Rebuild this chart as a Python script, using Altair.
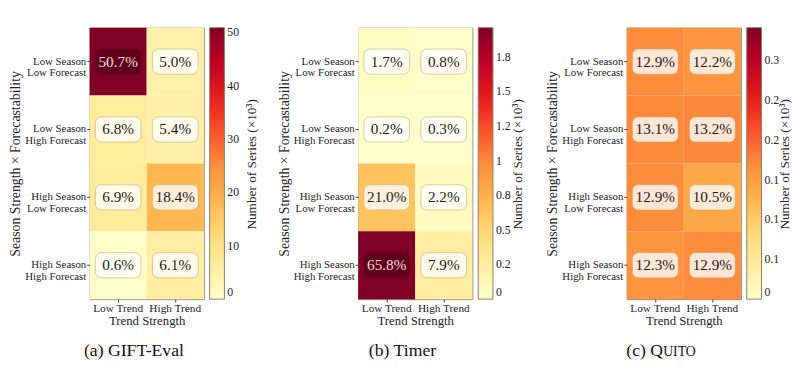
import json
import altair as alt
import pandas as pd

FONT = "Liberation Serif"

row_labels = ["Low Season|Low Forecast", "Low Season|High Forecast",
              "High Season|Low Forecast", "High Season|High Forecast"]
col_labels = ["Low Trend", "High Trend"]

# percentages shown in cells (rows top->bottom, cols Low/High Trend)
gift_pct = [[50.7, 5.0], [6.8, 5.4], [6.9, 18.4], [0.6, 6.1]]
timer_pct = [[1.7, 0.8], [0.2, 0.3], [21.0, 2.2], [65.8, 7.9]]
quito_pct = [[12.9, 12.2], [13.1, 13.2], [12.9, 10.5], [12.3, 12.9]]

gift_cnt = [[50.9, 5.0], [6.8, 5.4], [6.9, 18.5], [0.6, 6.1]]
timer_cnt = [[0.051, 0.024], [0.006, 0.009], [0.626, 0.066], [1.961, 0.235]]
quito_cnt = [[0.170, 0.161], [0.173, 0.174], [0.170, 0.139], [0.162, 0.170]]

gift_max, timer_max, quito_max = 50.9, 1.961, 0.341

gift_ticks = [0, 10, 20, 30, 40, 50]
gift_tick_labels = ["0", "10", "20", "30", "40", "50"]
timer_ticks = [0, 0.25, 0.5, 0.75, 1.0, 1.25, 1.5, 1.75]
timer_tick_labels = ["0", "0.2", "0.5", "0.8", "1", "1.2", "1.5", "1.8"]
quito_ticks = [0, 0.05, 0.10, 0.15, 0.20, 0.25, 0.30]
quito_tick_labels = ["0", "0.1", "0.1", "0.1", "0.2", "0.2", "0.3"]

legend_title = "Number of Series (×10³)"

# matplotlib YlOrRd colour stops
ylorrd = ["#ffffcc", "#ffeda0", "#fed976", "#feb24c", "#fd8d3c",
          "#fc4e2a", "#e31a1c", "#bd0026", "#800026"]


def make_df(pct, cnt, vmax):
    recs = []
    for i, r in enumerate(row_labels):
        for j, c in enumerate(col_labels):
            recs.append({"season": r, "trend": c, "pct": pct[i][j],
                         "count": cnt[i][j],
                         "label": f"{pct[i][j]:.1f}%",
                         "dark": cnt[i][j] > 0.7 * vmax})
    return pd.DataFrame(recs)


def panel(pct, cnt, vmax, ticks, tick_labels, step, caption_parts, title_x):
    df = make_df(pct, cnt, vmax)
    x = alt.X("trend:N", sort=col_labels,
              axis=alt.Axis(title="Trend Strength", labelAngle=0, tickSize=3,
                            labelPadding=1, titlePadding=0, domain=False,
                            labelFontSize=11.5))
    y = alt.Y("season:N", sort=row_labels,
              axis=alt.Axis(title="Season Strength × Forecastability",
                            labelExpr="split(datum.label, '|')", tickSize=3,
                            labelPadding=1, titlePadding=2, domain=False,
                            labelFontSize=11, labelLineHeight=12,
                            titleFontSize=14))
    label_expr = json.dumps(tick_labels) + f"[round(datum.value/{step})]"
    stops = [vmax * k / (len(ylorrd) - 1) for k in range(len(ylorrd))]
    base = alt.Chart(df)
    heat = base.mark_rect().encode(
        x=x, y=y,
        color=alt.Color("count:Q",
                        scale=alt.Scale(domain=stops, range=ylorrd,
                                        interpolate="rgb"),
                        legend=alt.Legend(
                            title=None, values=ticks,
                            labelExpr=label_expr, gradientLength=276,
                            gradientThickness=15, offset=6,
                            gradientStrokeColor="#8a7f63", gradientStrokeWidth=1,
                            labelFont=FONT, labelFontSize=12, labelColor="#222",
                            labelOffset=3, labelOverlap=False)))
    box = base.mark_rect(width={"band": 0.8}, height={"band": 0.37},
                         cornerRadius=6, strokeWidth=1).encode(
        x=x, y=y,
        fill=alt.condition("datum.dark", alt.value("rgba(40,0,8,0.35)"),
                           alt.value("rgba(255,255,255,0.78)")),
        stroke=alt.condition("datum.dark", alt.value("rgba(40,0,8,0.1)"),
                             alt.value("rgba(190,170,120,0.6)")))
    txt = base.mark_text(font=FONT, fontSize=15.5).encode(
        x=x, y=y, text="label:N",
        color=alt.condition("datum.dark", alt.value("#f6dede"), alt.value("#1a1a1a")))
    ltitle = alt.Chart(pd.DataFrame({"t": [legend_title]})).mark_text(
        font=FONT, fontSize=13.5, angle=270, align="center", baseline="middle",
        color="#222").encode(text="t:N", x=alt.value(title_x), y=alt.value(139))
    layers = [heat, box, txt, ltitle]
    for (t, size, xpos, align) in caption_parts:
        cap = alt.Chart(pd.DataFrame({"t": [t]})).mark_text(
            font=FONT, fontSize=size, align=align, baseline="alphabetic",
            color="#111").encode(text="t:N", x=alt.value(xpos), y=alt.value(334))
        layers.append(cap)
    return alt.layer(*layers).properties(width=116, height=276)


a = panel(gift_pct, gift_cnt, gift_max, gift_ticks, gift_tick_labels, 10,
          [("(a) GIFT-Eval", 18, 45, "center")], 165)
b = panel(timer_pct, timer_cnt, timer_max, timer_ticks, timer_tick_labels, 0.25,
          [("(b) Timer", 18, 45, "center")], 163)
c = panel(quito_pct, quito_cnt, quito_max, quito_ticks, quito_tick_labels, 0.05,
          [("(c) Q", 18, 37, "right"), ("UITO", 14, 37, "left")], 161)

chart = alt.hconcat(a, b, c, spacing=157, bounds="flush").resolve_scale(
    color="independent", x="independent", y="independent"
).resolve_legend(color="independent").properties(
    padding={"left": 0, "top": 16, "right": 0, "bottom": 5}
).configure_view(stroke="#8a7f63", strokeWidth=1).configure_axis(
    labelFont=FONT, labelFontSize=11, labelColor="#222",
    titleFont=FONT, titleFontSize=13, titleFontWeight="normal", titleColor="#222",
    tickColor="#444")

chart.save("out.html", embed_options={"renderer": "svg", "actions": False})
